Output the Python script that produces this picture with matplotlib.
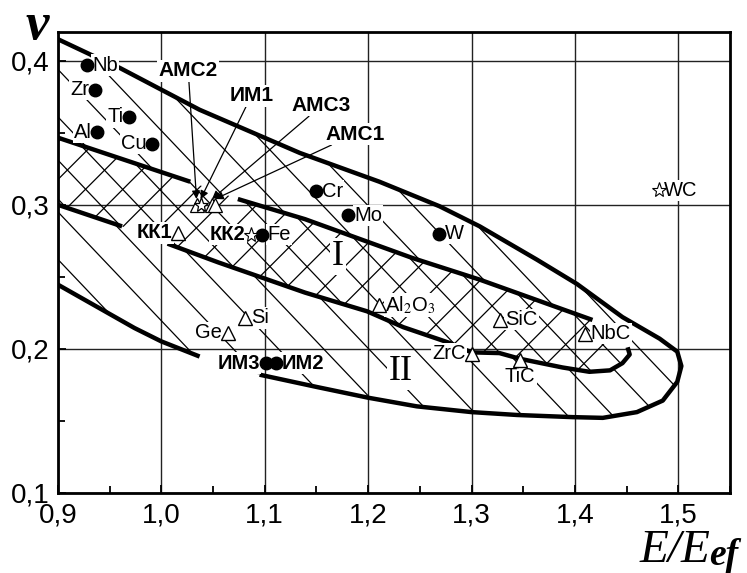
import numpy as np
import matplotlib.pyplot as plt
from matplotlib.path import Path
from matplotlib.patches import PathPatch
from matplotlib.collections import LineCollection
from matplotlib.ticker import MultipleLocator

plt.rcParams['font.family'] = ['Liberation Sans', 'DejaVu Sans']
plt.rcParams['mathtext.fontset'] = 'stix'

# outer boundary (region II), from the top-left down round the nose to the lower end
outer_x = [0.900, 0.931, 0.960, 1.037, 1.134, 1.211, 1.269, 1.308, 1.363, 1.402, 1.446,
           1.482, 1.499, 1.503, 1.499, 1.485, 1.460, 1.427, 1.398, 1.344, 1.300, 1.247,
           1.200, 1.150, 1.095]
outer_y = [0.415, 0.4045, 0.395, 0.366, 0.336, 0.316, 0.299, 0.285, 0.262, 0.245, 0.222,
           0.207, 0.198, 0.188, 0.177, 0.164, 0.156, 0.152, 0.1525, 0.154, 0.156, 0.160,
           0.166, 0.1735, 0.182]

# upper edge of band I (drawn in two pieces)
band_top_a_x = [0.900, 1.028]
band_top_a_y = [0.3466, 0.316]
band_top_b_x = [1.074, 1.139, 1.243, 1.308, 1.417]
band_top_b_y = [0.304, 0.290, 0.263, 0.248, 0.220]

# lower edge of band I, ending in the hook
band_bot_a_x = [0.900, 0.962]
band_bot_a_y = [0.300, 0.285]
band_bot_b_x = [1.006, 1.055, 1.139, 1.199, 1.234, 1.279, 1.300, 1.327, 1.347, 1.388,
                1.414, 1.434, 1.446, 1.453, 1.451]
band_bot_b_y = [0.273, 0.260, 0.239, 0.226, 0.215, 0.204, 0.1975, 0.197, 0.193, 0.187,
                0.184, 0.185, 0.190, 0.196, 0.201]

# lower-left edge of region II
lower_x = [0.900, 0.974, 1.000, 1.037]
lower_y = [0.2445, 0.2144, 0.2051, 0.1946]

# metals and intermetallics
metal_names = ['Nb', 'Zr', 'Ti', 'Al', 'Cu', 'Cr', 'Mo', 'W', 'Fe', 'ИМ3', 'ИМ2']
metal_x = [0.928, 0.936, 0.969, 0.938, 0.991, 1.150, 1.181, 1.269, 1.097, 1.101, 1.1105]
metal_y = [0.397, 0.380, 0.361, 0.3505, 0.3425, 0.3095, 0.2926, 0.280, 0.2793, 0.190, 0.190]
metal_side = ['r', 'l', 'l', 'l', 'l', 'r', 'r', 'r', 'r', 'l', 'r']

# covalent / ceramic materials
ceram_names = ['КК1', 'Ge', 'Si', 'Al$_2$O$_3$', 'SiC', 'NbC', 'ZrC', 'TiC']
ceram_x = [1.016, 1.064, 1.081, 1.211, 1.3275, 1.410, 1.300, 1.347]
ceram_y = [0.2805, 0.211, 0.2214, 0.2306, 0.2202, 0.2104, 0.1965, 0.1923]
ceram_side = ['l', 'l', 'r', 'r', 'r', 'r', 'l', 'b']

# composites
star_names = ['WC', 'КК2']
star_x = [1.481, 1.087]
star_y = [0.310, 0.2793]
star_side = ['r', 'l']

# amorphous alloys, labelled with arrows
amc_names = ['АМС2', 'ИМ1', 'АМС3', 'АМС1']
amc_x = [1.034, 1.038, 1.049, 1.052]
amc_y = [0.300, 0.300, 0.300, 0.300]
amc_marker = ['^', '*', '^', '^']
amc_text_x = [1.026, 1.087, 1.155, 1.187]
amc_text_y = [0.393, 0.3756, 0.369, 0.349]

x_ticks = [0.9, 1.0, 1.1, 1.2, 1.3, 1.4, 1.5]
x_labels = ['0,9', '1,0', '1,1', '1,2', '1,3', '1,4', '1,5']
y_ticks = [0.1, 0.2, 0.3, 0.4]
y_labels = ['0,1', '0,2', '0,3', '0,4']


def closed_path(xs, ys, ccw=True):
    v = np.column_stack([xs, ys])
    area = 0.5 * np.sum(v[:-1, 0] * v[1:, 1] - v[1:, 0] * v[:-1, 1])
    if (area > 0) != ccw:
        v = v[::-1]
    v = np.vstack([v, v[:1]])
    codes = [Path.MOVETO] + [Path.LINETO] * (len(v) - 2) + [Path.CLOSEPOLY]
    return v, codes


def hatch(ax, clip, slope, step, lw=0.9):
    cs = np.arange(-1.5, 2.0, step)
    segs = [[(0.85, c + slope * 0.85), (1.6, c + slope * 1.6)] for c in cs]
    lc = LineCollection(segs, colors='black', linewidths=lw, zorder=2)
    ax.add_collection(lc)
    lc.set_clip_path(clip)


fig = plt.figure(figsize=(7.47, 5.73), dpi=100)
ax = fig.add_axes([0.0776, 0.1401, 0.8996, 0.8040])
ax.set_xlim(0.9, 1.55)
ax.set_ylim(0.1, 0.42)

# regions for hatching: II is the outer area without band I
reg2_x = outer_x + lower_x[::-1]
reg2_y = outer_y + lower_y[::-1]
reg1_x = band_top_a_x + band_top_b_x + band_bot_b_x[::-1] + band_bot_a_x[::-1]
reg1_y = band_top_a_y + band_top_b_y + band_bot_b_y[::-1] + band_bot_a_y[::-1]

v2, c2 = closed_path(reg2_x, reg2_y, ccw=True)
v1, c1 = closed_path(reg1_x, reg1_y, ccw=False)
ring = Path(np.vstack([v2, v1]), c2 + c1)
clip2 = PathPatch(ring, transform=ax.transData, fc='none', ec='none')
ax.add_patch(clip2)
v1b, c1b = closed_path(reg1_x, reg1_y, ccw=True)
clip1 = PathPatch(Path(v1b, c1b), transform=ax.transData, fc='none', ec='none')
ax.add_patch(clip1)

k = 1034 / 1437  # data slope for a 45 degree line on screen
hatch(ax, clip2, -1.05 * k, 0.033)
hatch(ax, clip1, -1.05 * k, 0.027)
hatch(ax, clip1, 1.0 * k, 0.026)

# boundary curves
thick = dict(color='black', lw=3.2, solid_capstyle='butt', zorder=3)
ax.plot(outer_x, outer_y, **thick)
ax.plot(band_top_a_x, band_top_a_y, **thick)
ax.plot(band_top_b_x, band_top_b_y, **thick)
ax.plot(band_bot_a_x, band_bot_a_y, **thick)
ax.plot(band_bot_b_x, band_bot_b_y, **thick)
ax.plot(lower_x, lower_y, **thick)

box = dict(boxstyle='square,pad=0.06', fc='white', ec='none')
place = {'r': ((4, 0), 'left', 'center'),
         'l': ((-4, 0), 'right', 'center'),
         'b': ((0, -5), 'center', 'top')}


def label(name, x, y, side, bold=False):
    off, ha, va = place[side]
    ax.annotate(name, (x, y), xytext=off, textcoords='offset points', ha=ha, va=va,
                fontsize=14.5, fontweight='bold' if bold else 'normal', bbox=box, zorder=6)


ax.plot(metal_x, metal_y, 'o', ms=9, color='black', zorder=7)
for n, x, y, s in zip(metal_names, metal_x, metal_y, metal_side):
    label(n, x, y, s, bold=n.startswith('ИМ'))

ax.plot(ceram_x, ceram_y, '^', ms=10, mfc='white', mec='black', mew=1.0, zorder=7)
for n, x, y, s in zip(ceram_names, ceram_x, ceram_y, ceram_side):
    label(n, x, y, s, bold=n.startswith('КК'))

ax.plot(star_x, star_y, '*', ms=11, mfc='white', mec='black', mew=0.8, zorder=7)
for n, x, y, s in zip(star_names, star_x, star_y, star_side):
    label(n, x, y, s, bold=n.startswith('КК'))

for n, x, y, m, tx, ty in zip(amc_names, amc_x, amc_y, amc_marker, amc_text_x, amc_text_y):
    ax.plot([x], [y], m, ms=11 if m == '*' else 10, mfc='white', mec='black',
            mew=0.9, zorder=7)
    ax.annotate(n, (x, y + 0.004), xytext=(tx, ty), ha='center', va='center',
                fontsize=15, fontweight='bold', bbox=box, zorder=8,
                arrowprops=dict(arrowstyle='-|>', color='black', lw=0.9,
                                mutation_scale=12, shrinkA=0, shrinkB=0))

ax.text(1.171, 0.264, 'I', family='Liberation Serif', fontsize=26,
        ha='center', va='center', bbox=box, zorder=6)
ax.text(1.232, 0.184, 'II', family='Liberation Serif', fontsize=26,
        ha='center', va='center', bbox=box, zorder=6)

# axes styling
ax.set_xticks(x_ticks)
ax.set_xticklabels(x_labels)
ax.set_yticks(y_ticks)
ax.set_yticklabels(y_labels)
ax.xaxis.set_minor_locator(MultipleLocator(0.05))
ax.yaxis.set_minor_locator(MultipleLocator(0.05))
ax.tick_params(which='both', direction='in', width=1.3, labelsize=20)
ax.tick_params(which='major', length=6)
ax.tick_params(axis='x', which='major', pad=7)
ax.tick_params(axis='y', which='major', pad=6)
ax.tick_params(which='minor', length=5)
ax.grid(True, which='major', color='#222222', lw=1.0, zorder=1)
ax.set_axisbelow(True)
for sp in ax.spines.values():
    sp.set_linewidth(2)

# axis names: nu at the top left, E/E_ef at the bottom right
fig.text(0.05, 0.955, 'ν', family='Liberation Serif', style='italic', weight='bold',
         fontsize=38, ha='center', va='center')
fig.text(0.951, 0.019, 'E/E', family='Liberation Serif', style='italic',
         fontsize=34, ha='right', va='baseline')
fig.text(0.949, 0.014, 'ef', family='Liberation Serif', style='italic', weight='bold',
         fontsize=27, ha='left', va='baseline')

fig.savefig('out.png', dpi=100)
